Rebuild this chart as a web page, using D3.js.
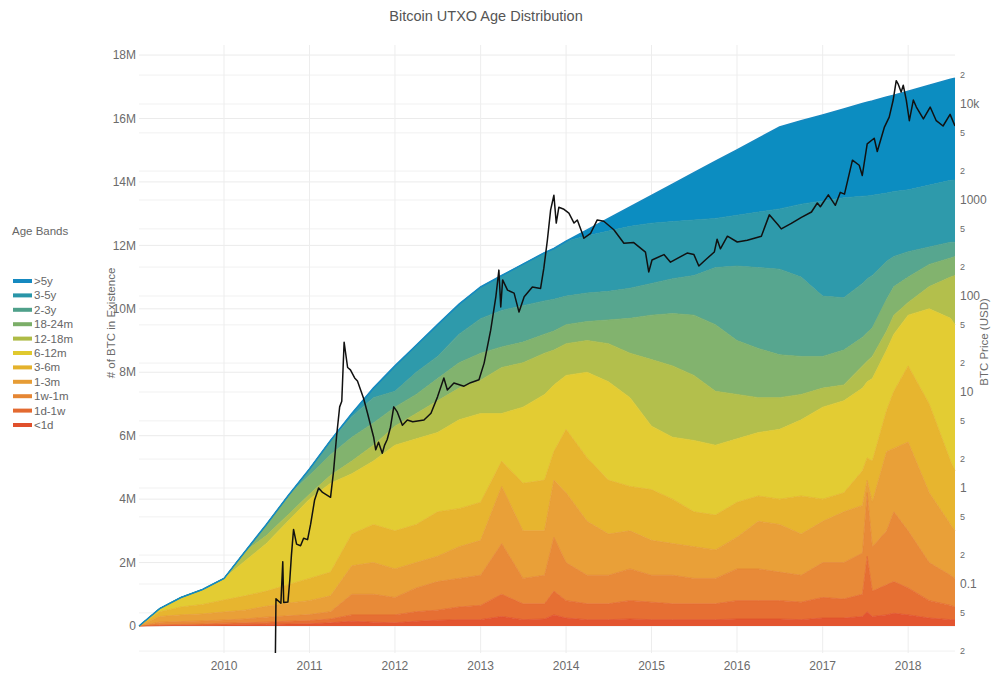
<!DOCTYPE html>
<html><head><meta charset="utf-8">
<script src="https://cdn.jsdelivr.net/npm/d3@7"></script>
<style>body{margin:0;background:#fff;} svg{display:block;font-family:"Liberation Sans",Arial,sans-serif;}</style>
</head><body>
<svg id="chart" width="1000" height="685"></svg>
<script>
// ---------- DATA (millions of BTC) ----------
const dates = ['2009-01-03','2009-04-01','2009-07-01','2009-10-01','2010-01-01','2010-04-01','2010-07-01','2010-10-01',
 '2011-01-01','2011-04-01','2011-07-01','2011-10-01','2012-01-01','2012-04-01','2012-07-01','2012-10-01',
 '2013-01-01','2013-04-01','2013-07-01','2013-10-01','2013-11-10','2014-01-01','2014-04-01','2014-07-01','2014-10-01',
 '2015-01-01','2015-04-01','2015-07-01','2015-10-01','2016-01-01','2016-04-01','2016-07-01','2016-10-01',
 '2017-01-01','2017-04-01','2017-06-20','2017-07-10','2017-08-01','2017-10-01','2017-11-01',
 '2018-01-01','2018-04-01','2018-07-01','2018-07-20'];
const ageBands = ['<1d','1d-1w','1w-1m','1-3m','3-6m','6-12m','12-18m','18-24m','2-3y','3-5y','>5y'];
const bandLt1d  = [0,.01,.02,.02,.03,.04,.05,.06,.07,.10,.15,.12,.10,.15,.18,.20,.20,.30,.20,.22,.35,.25,.20,.20,.22,.20,.20,.20,.20,.22,.22,.22,.20,.25,.25,.30,.45,.30,.35,.40,.35,.25,.20,.20];
const band1d1w  = [0,.03,.03,.04,.06,.06,.07,.09,.10,.12,.20,.23,.25,.30,.32,.40,.45,.70,.50,.48,.75,.55,.50,.50,.58,.55,.50,.50,.50,.58,.58,.58,.55,.65,.60,.70,1.75,.80,.95,1.00,.85,.55,.45,.40];
const band1w1m  = [0,.08,.09,.10,.10,.12,.16,.17,.19,.23,.65,.65,.55,.75,.90,.90,.95,1.60,.80,.90,1.70,1.20,.90,.90,1.00,.85,.90,.80,.80,1.00,1.00,.90,.85,1.10,1.15,1.30,2.00,1.40,1.70,2.20,1.80,1.20,.95,.90];
const band1m3m  = [0,.18,.21,.22,.25,.28,.34,.40,.44,.50,.90,1.00,.90,.80,.80,1.00,1.10,1.80,1.50,1.40,1.80,2.20,1.70,1.30,1.20,1.10,1.00,1.00,.90,1.00,1.50,1.50,1.30,1.30,1.60,1.50,.40,1.40,2.50,2.00,2.80,2.20,1.60,1.50];
const band3m6m  = [0,.15,.25,.30,.38,.45,.48,.58,.70,.75,1.00,1.20,1.20,1.20,1.40,1.20,1.20,.80,1.50,1.60,.90,2.00,2.00,1.70,1.40,1.60,1.40,1.10,1.10,1.10,.80,.80,1.20,.70,.60,1.10,.70,1.30,1.30,1.80,2.40,2.80,2.00,1.90];
const band6m12m = [0,.10,.30,.47,.68,1.10,1.50,2.00,2.50,2.80,1.90,2.00,2.70,2.70,2.50,2.80,2.80,1.50,2.40,2.70,2.10,1.70,2.70,3.10,2.80,2.00,1.95,2.25,2.20,2.00,2.00,2.20,2.40,2.90,2.90,2.60,2.40,2.60,1.90,1.80,1.60,3.00,4.50,4.60];
const band12m18m= [0,0,0,0,0,.30,.25,.20,.15,.25,.40,.50,.60,.80,1.00,1.00,1.05,1.45,1.40,1.30,1.10,1.00,1.00,1.20,1.40,2.10,2.25,2.05,1.70,1.40,1.10,1.00,.80,.60,.50,.70,.65,.70,.60,.60,.40,.70,1.30,1.55];
const band18m24m= [0,0,0,0,0,0,.35,.60,.60,.65,.75,.70,.60,.60,.70,.80,.85,.65,.65,.60,.60,.60,.60,.75,1.10,1.40,1.65,1.90,2.10,1.70,1.55,1.35,1.20,1.00,1.10,.90,.90,.90,1.00,.90,.80,.70,.60,.60];
const band2y3y  = [0,0,0,0,0,0,0,0,.20,.45,.65,.80,.50,.70,.70,.90,1.09,1.15,1.15,1.05,1.00,.90,.90,.90,.95,1.00,1.10,1.25,1.80,2.35,2.55,2.70,2.50,1.90,1.65,1.70,1.70,1.65,1.20,.95,.80,.55,.50,.45];
const band3y5y  = [0,0,0,0,0,0,0,0,0,0,.10,.30,.80,.85,1.00,.95,1.00,1.10,1.31,1.52,1.60,1.73,1.80,1.90,1.95,1.90,1.80,1.75,1.55,1.60,1.75,1.90,2.30,3.00,3.15,2.75,2.61,2.53,2.15,2.05,1.95,1.95,1.95,1.96];
const bandGt5y  = [0,0,0,0,0,0,0,0,0,0,0,0,0,0,0,0,0,0,0,0,0,0,.19,.40,.61,.87,1.18,1.49,1.80,2.06,2.32,2.58,2.63,2.71,2.80,2.92,2.95,2.97,3.03,3.03,3.11,3.15,3.19,3.21];

const priceDates = ['2010-08-07','2010-08-11','2010-09-01','2010-09-09','2010-09-13','2010-10-01','2010-10-09','2010-10-16','2010-10-25','2010-11-07','2010-11-24','2010-12-07','2010-12-24',
 '2011-01-06','2011-01-23','2011-02-09','2011-02-26','2011-03-15','2011-04-01','2011-04-14','2011-04-27','2011-05-10','2011-05-19','2011-05-29','2011-06-13','2011-06-25','2011-07-13','2011-07-25','2011-08-20','2011-09-06','2011-09-19','2011-10-02','2011-10-11','2011-10-23','2011-11-08','2011-11-18','2011-11-29','2011-12-13','2011-12-27',
 '2012-01-11','2012-02-02','2012-02-23','2012-03-17','2012-04-07','2012-05-04','2012-06-03','2012-07-01','2012-07-28','2012-08-12','2012-09-09','2012-10-22','2012-11-19','2012-12-25',
 '2013-01-16','2013-02-13','2013-03-07','2013-03-20','2013-03-28','2013-04-05','2013-04-26','2013-05-24','2013-06-14','2013-07-06','2013-08-10','2013-09-14','2013-09-28','2013-10-13','2013-10-27','2013-11-10','2013-11-20','2013-12-01','2013-12-23',
 '2014-01-13','2014-02-04','2014-02-18','2014-03-11','2014-03-18','2014-04-16','2014-05-14','2014-06-11','2014-07-24','2014-09-05','2014-10-17','2014-12-06','2014-12-20',
 '2015-01-03','2015-02-23','2015-03-23','2015-06-02','2015-07-01','2015-07-22','2015-08-21','2015-09-26','2015-10-08','2015-10-22','2015-11-21',
 '2016-01-02','2016-02-14','2016-04-14','2016-05-18','2016-06-25','2016-07-08','2016-08-20','2016-10-02','2016-11-14','2016-12-09','2016-12-22',
 '2017-01-25','2017-02-24','2017-03-17','2017-04-04','2017-05-08','2017-06-06','2017-06-19','2017-07-10','2017-08-09','2017-08-22','2017-09-21','2017-10-12','2017-10-29','2017-11-11','2017-11-20','2017-12-02','2017-12-11','2017-12-24',
 '2018-01-06','2018-01-23','2018-02-05','2018-03-07','2018-04-05','2018-05-01','2018-05-30','2018-06-29','2018-07-20'];
const priceValues = [0.008,0.07,0.063,0.17,0.064,0.065,0.11,0.2,0.37,0.26,0.25,0.3,0.29,
 0.42,0.75,1.0,0.9,0.85,0.8,1.5,3.5,7,8,33,18,17,14,13,8.6,6,4.5,3.4,2.5,3.0,2.3,2.8,3.2,4.3,7,
 6.2,4.5,5.1,4.9,5.0,5.1,6,8.9,14,10.5,12.4,11.5,12.5,13.4,
 20,44,98,186,77,147,115,107,68,98,124,120,195,380,790,1120,575,840,800,
 730,575,620,450,400,450,620,600,490,355,360,287,178,
 237,270,225,280,270,205,240,287,390,310,420,
 365,380,420,700,550,500,570,660,750,930,850,
 1130,880,1200,1150,2600,2300,1800,3850,4400,3200,5700,7300,11000,17500,16000,13300,15700,11000,
 6700,11000,9300,7000,9300,6700,5900,7800,5900];

const leftTicks = [0,2,4,6,8,10,12,14,16,18];
const rightTicks = [0.02,0.05,0.1,0.2,0.5,1,2,5,10,20,50,100,200,500,1000,2000,5000,10000,20000];
const yearTicks = [2010,2011,2012,2013,2014,2015,2016,2017,2018];

// ---------- STYLE ----------
const bandColors = ['#e35530','#e66f33','#e88a38','#e9a038','#e7b52f','#e3cc33','#b3bf4c','#82b36e','#57a68f','#2e9aab','#0c8dc1'];
const lineColors = ['#e0502c','#e36a30','#e58634','#e69c35','#e4b22c','#e0c92e','#aebb46','#7bae68','#4fa08a','#2995a8','#1589c0'];

const svg = d3.select('#chart');
const L = 139, R = 955, T = 45, B = 653;

const parse = d3.timeParse('%Y-%m-%d');
const bandValues = [bandLt1d, band1d1w, band1w1m, band1m3m, band3m6m, band6m12m, band12m18m, band18m24m, band2y3y, band3y5y, bandGt5y];
const rows = dates.map((d,i)=>{ const r = {date:parse(d)}; ageBands.forEach((b,k)=>{ r[b] = bandValues[k][i]; }); return r; });

const x = d3.scaleTime().domain([parse('2009-01-03'), parse('2018-07-20')]).range([L, R]);
const y = d3.scaleLinear().domain([-0.851, 18.317]).range([B, T]);
const yP = d3.scaleLog().domain([Math.pow(10,-1.7188), Math.pow(10,4.6146)]).range([B, T]);

// grid
const g = svg.append('g');
g.selectAll('.gr').data(rightTicks).join('line')
  .attr('x1',L).attr('x2',R).attr('y1',d=>yP(d)).attr('y2',d=>yP(d))
  .attr('stroke','#f1f1f1').attr('stroke-width',1);
g.selectAll('.gl').data(leftTicks).join('line')
  .attr('x1',L).attr('x2',R).attr('y1',d=>y(d)).attr('y2',d=>y(d))
  .attr('stroke','#ebebeb').attr('stroke-width',1);
g.selectAll('.gx').data(yearTicks).join('line')
  .attr('x1',d=>x(new Date(d,0,1))).attr('x2',d=>x(new Date(d,0,1))).attr('y1',T).attr('y2',B)
  .attr('stroke','#ededed').attr('stroke-width',1);

// stacked areas
const stack = d3.stack().keys(ageBands);
const series = stack(rows);
const area = d3.area().x(d=>x(d.data.date)).y0(d=>y(d[0])).y1(d=>y(d[1]));
const topLine = d3.line().x(d=>x(d.data.date)).y(d=>y(d[1]));
svg.append('g').selectAll('path').data(series).join('path')
  .attr('d',area).attr('fill',(d,i)=>bandColors[i]);
svg.append('g').selectAll('path').data(series).join('path')
  .attr('d',topLine).attr('fill','none').attr('stroke',(d,i)=>lineColors[i]).attr('stroke-width',(d,i)=>i===10?1.6:0.8);

// price line
svg.append('clipPath').attr('id','clip').append('rect').attr('x',L).attr('y',T).attr('width',R-L).attr('height',B-T);
const priceData = priceDates.map((d,i)=>({date:parse(d), v:priceValues[i]}));
svg.append('path').datum(priceData).attr('clip-path','url(#clip)')
  .attr('d', d3.line().x(d=>x(d.date)).y(d=>yP(d.v)))
  .attr('fill','none').attr('stroke','#111').attr('stroke-width',1.5).attr('stroke-linejoin','round');

// left axis labels
const axCol = '#6b6b6b';
svg.append('g').selectAll('text').data(leftTicks).join('text')
  .attr('x',136).attr('y',d=>y(d)).attr('dy','0.35em').attr('text-anchor','end')
  .attr('font-size',12).attr('fill',axCol).text(d=>d===0?'0':d+'M');
// right axis labels
const isMajor = v => { const l = Math.log10(v); return Math.abs(l-Math.round(l))<1e-9; };
const fmtR = v => isMajor(v) ? (v>=10000 ? (v/1000)+'k' : String(v)) : String(Math.round(v/Math.pow(10,Math.floor(Math.log10(v)))));
svg.append('g').selectAll('text').data(rightTicks).join('text')
  .attr('x',960).attr('y',d=>yP(d)).attr('dy','0.35em').attr('text-anchor','start')
  .attr('font-size',d=>isMajor(d)?12:9)
  .attr('fill',axCol).text(fmtR);
// x labels
svg.append('g').selectAll('text').data(yearTicks).join('text')
  .attr('x',d=>x(new Date(d,0,1))).attr('y',670).attr('text-anchor','middle')
  .attr('font-size',12).attr('fill',axCol).text(d=>d);

// axis titles
svg.append('text').attr('transform','translate(115,323) rotate(-90)').attr('text-anchor','middle')
  .attr('font-size',11.5).attr('fill',axCol).text('# of BTC in Existence');
svg.append('text').attr('transform','translate(988,342) rotate(-90)').attr('text-anchor','middle')
  .attr('font-size',11.5).attr('fill',axCol).text('BTC Price (USD)');

// title
svg.append('text').attr('x',486).attr('y',21).attr('text-anchor','middle')
  .attr('font-size',14.5).attr('fill','#555').text('Bitcoin UTXO Age Distribution');

// legend
const lg = svg.append('g');
lg.append('text').attr('x',12).attr('y',235).attr('font-size',11.5).attr('fill','#666').text('Age Bands');
const legendOrder = ageBands.slice().reverse();
legendOrder.forEach((b,k)=>{
  const i = ageBands.indexOf(b);
  const yy = 281 + k*14.4;
  lg.append('line').attr('x1',13).attr('x2',32).attr('y1',yy).attr('y2',yy).attr('stroke',lineColors[i]).attr('stroke-width',4);
  lg.append('text').attr('x',34).attr('y',yy).attr('dy','0.35em').attr('font-size',11.5).attr('fill','#666').text(b);
});
</script>
</body></html>
